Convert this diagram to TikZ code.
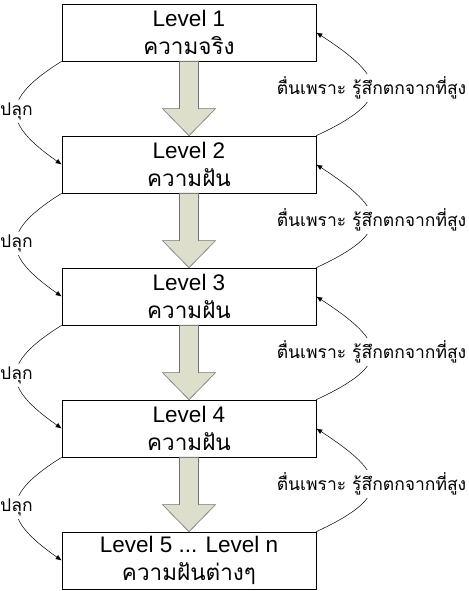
\documentclass[tikz,border=0pt]{standalone}
\usepackage{fontspec}
\setmainfont{Liberation Sans}
\newfontfamily\thai[Script=Thai]{Loma}
\usetikzlibrary{calc,arrows.meta}

\begin{document}
\begin{tikzpicture}[
    x=1pt, y=1pt, line width=0.6pt,
    boxNode/.style={rectangle, draw, minimum width=254pt, minimum height=57pt, inner sep=0pt, align=center, font=\fontsize{22.5}{27.5}\selectfont},
    bigArrow/.style={draw=black!55, fill={rgb,255:red,221;green,222;blue,204}},
    wakeEdge/.style={draw, line width=0.5pt, -{Latex[length=6pt,width=5pt]}},
    sideLabel/.style={fill=white, inner sep=3pt, font=\fontsize{17.5}{20}\selectfont\thai}
]
    \useasboundingbox (0,0) rectangle (468,591);

    \node[boxNode] (l1) at (189,558.5) {Level 1\\{\thai ความจริง}};
    \node[boxNode] (l2) at (189,426.5) {Level 2\\{\thai ความฝัน}};
    \node[boxNode] (l3) at (189,294.5) {Level 3\\{\thai ความฝัน}};
    \node[boxNode] (l4) at (189,162.5) {Level 4\\{\thai ความฝัน}};
    \node[boxNode] (l5) at (189,30.5) {Level 5 ... Level n\\{\thai ความฝันต่างๆ}};

    % big arrows between the levels
    \foreach \a/\b in {l1/l2, l2/l3, l3/l4, l4/l5} {
        \draw[bigArrow] ($(\a.south)+(-9.5,0)$) -- ($(\b.north)+(-9.5,27)$) -- ($(\b.north)+(-26.5,27)$)
            -- (\b.north) -- ($(\b.north)+(26.5,27)$) -- ($(\b.north)+(9.5,27)$) -- ($(\a.south)+(9.5,0)$) -- cycle;
    }

    % fall down / wake up
    \foreach \a/\b in {l1/l2, l2/l3, l3/l4, l4/l5} {
        \draw[wakeEdge] (\a.south west) to[out=212, in=145, looseness=1.8] node[sideLabel] {ปลุก} (\b.west);
        \draw[wakeEdge] (\b.north east) to[out=25, in=-33, looseness=2.1] node[sideLabel] {ตื่นเพราะ รู้สึกตกจากที่สูง} (\a.east);
    }
\end{tikzpicture}
\end{document}
